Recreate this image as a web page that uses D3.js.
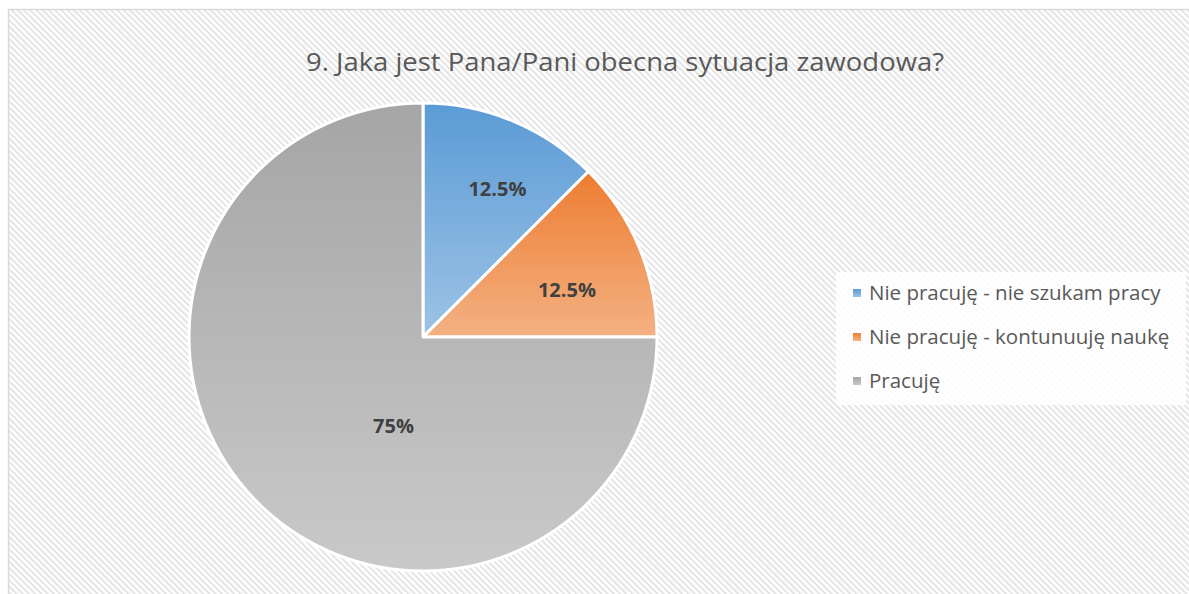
<!DOCTYPE html>
<html>
<head>
<meta charset="utf-8">
<script src="https://cdn.jsdelivr.net/npm/d3@7"></script>
<style>
  body { margin: 0; background: #fff; }
  svg { display: block; }
</style>
</head>
<body>
<div id="chart"></div>
<script>
const title = "9. Jaka jest Pana/Pani obecna sytuacja zawodowa?"
const categories = ["Nie pracuję - nie szukam pracy", "Nie pracuję - kontunuuję naukę", "Pracuję"]
const values = [12.5, 12.5, 75]
const labels = ["12.5%", "12.5%", "75%"]
const colorsTop = ["#5b9bd5", "#ed7d31", "#a5a5a5"]
const colorsBottom = ["#9dc3e6", "#f4b183", "#c9c9c9"]

const width = 1189
const height = 594
const cx = 423, cy = 337, radius = 234
// nudges so labels sit where Excel's best-fit put them
const labelNudge = [[14, -2], [-2, 13], [16, 43]]

const svg = d3.select("#chart").append("svg")
  .attr("width", width)
  .attr("height", height)

const defs = svg.append("defs")

const pattern = defs.append("pattern")
  .attr("id", "stripes")
  .attr("patternUnits", "userSpaceOnUse")
  .attr("width", 4.4)
  .attr("height", 4.4)
  .attr("patternTransform", "rotate(-45)")
pattern.append("rect").attr("width", 4.4).attr("height", 4.4).attr("fill", "#ffffff")
pattern.append("rect").attr("width", 2).attr("height", 4.4).attr("fill", "#e4e4e4")

categories.forEach((c, i) => {
  const g = defs.append("linearGradient")
    .attr("id", "grad" + i)
    .attr("x1", 0).attr("y1", 0).attr("x2", 0).attr("y2", 1)
  g.append("stop").attr("offset", "0%").attr("stop-color", colorsTop[i])
  g.append("stop").attr("offset", "100%").attr("stop-color", colorsBottom[i])
})

// chart area
svg.append("rect")
  .attr("x", 8.5).attr("y", 9.5)
  .attr("width", width + 10).attr("height", height + 10)
  .attr("fill", "url(#stripes)")
  .attr("stroke", "#d9d9d9")
  .attr("stroke-width", 1.5)

svg.append("text")
  .attr("x", 625)
  .attr("y", 71)
  .attr("text-anchor", "middle")
  .attr("font-family", "Open Sans")
  .attr("font-size", "25px")
  .attr("fill", "#595959")
  .attr("textLength", 638)
  .attr("lengthAdjust", "spacingAndGlyphs")
  .text(title)

const pie = d3.pie().sort(null).value(d => d)
const arcs = pie(values)
const arc = d3.arc().innerRadius(0).outerRadius(radius)
const labelArc = d3.arc().innerRadius(radius * 0.55).outerRadius(radius * 0.8)
const innerLabelArc = d3.arc().innerRadius(0).outerRadius(radius * 0.55)

const pieG = svg.append("g").attr("transform", `translate(${cx},${cy})`)

pieG.selectAll("path")
  .data(arcs)
  .enter().append("path")
  .attr("d", arc)
  .attr("fill", (d, i) => `url(#grad${i})`)
  .attr("stroke", "#fff")
  .attr("stroke-width", 3)
  .attr("stroke-linejoin", "round")

pieG.selectAll("text.lbl")
  .data(arcs)
  .enter().append("text")
  .attr("class", "lbl")
  .attr("transform", (d, i) => {
    const [x, y] = (i === 2 ? innerLabelArc : labelArc).centroid(d)
    return `translate(${x + labelNudge[i][0]},${y + labelNudge[i][1]})`
  })
  .attr("text-anchor", "middle")
  .attr("dy", "0.35em")
  .attr("font-family", "Open Sans")
  .attr("font-weight", "bold")
  .attr("font-size", "20px")
  .attr("fill", "#404040")
  .text((d, i) => labels[i])

// legend
const legend = svg.append("g").attr("transform", "translate(836,272)")
legend.append("rect")
  .attr("width", 350).attr("height", 133)
  .attr("fill", "#fff").attr("opacity", 0.85)

categories.forEach((c, i) => {
  const row = legend.append("g").attr("transform", `translate(17, ${21 + i * 44})`)
  row.append("rect")
    .attr("x", 0).attr("y", -4)
    .attr("width", 8).attr("height", 8)
    .attr("fill", `url(#grad${i})`)
  row.append("text")
    .attr("x", 16)
    .attr("dy", "0.35em")
    .attr("font-family", "Open Sans")
    .attr("font-size", "20.5px")
    .attr("fill", "#595959")
    .text(c)
})
</script>
</body>
</html>
